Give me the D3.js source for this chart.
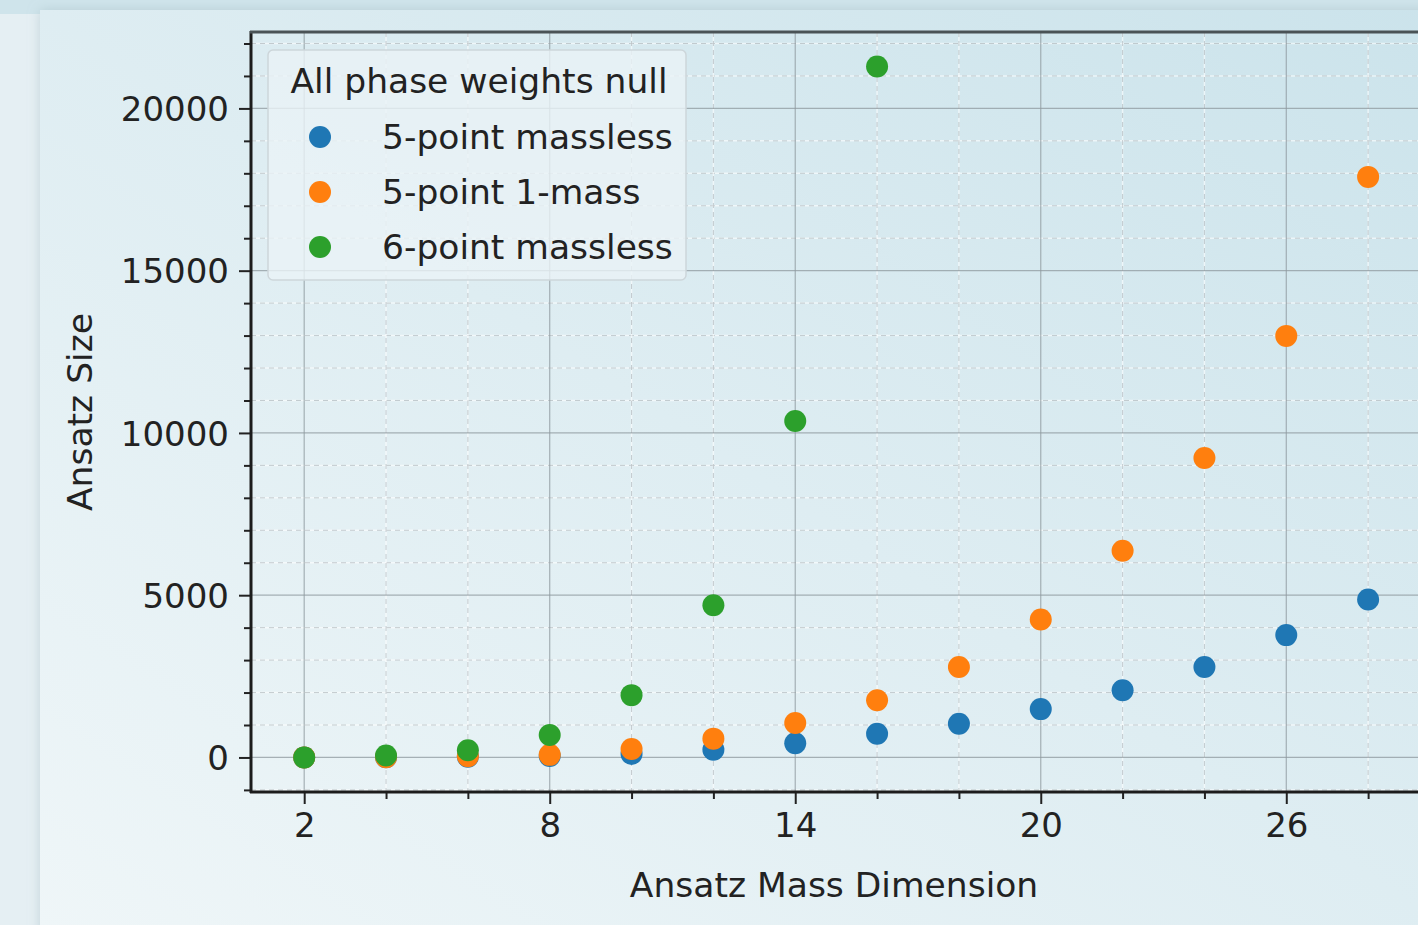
<!DOCTYPE html>
<html>
<head>
<meta charset="utf-8">
<script src="https://cdn.jsdelivr.net/npm/d3@7"></script>
<style>
  html, body { margin: 0; padding: 0; background: #d9e9ef; }
  svg { display: block; font-family: "DejaVu Sans", sans-serif; }
</style>
</head>
<body>
<div id="chart"></div>
<script>
// Data
const massDim = [2, 4, 6, 8, 10, 12, 14, 16, 18, 20, 22, 24, 26, 28];
const fivePointMassless = [1, 6, 20, 45, 110, 240, 440, 730, 1040, 1490, 2070, 2790, 3770, 4870];
const fivePointOneMass = [2, 10, 40, 80, 260, 580, 1060, 1760, 2790, 4250, 6370, 9230, 12990, 17890];
const sixPointDim = [2, 4, 6, 8, 10, 12, 14, 16];
const sixPointMassless = [1, 60, 220, 690, 1920, 4690, 10370, 21290];

const seriesNames = ["5-point massless", "5-point 1-mass", "6-point massless"];
const seriesColors = ["#1f77b4", "#ff7f0e", "#2ca02c"];
const legendTitle = "All phase weights null";

const xMajorTicks = [2, 8, 14, 20, 26];
const xMinorTicks = [4, 6, 10, 12, 16, 18, 22, 24, 28];
const yMajorTicks = [0, 5000, 10000, 15000, 20000];
const yMinorTicks = [-1000, 1000, 2000, 3000, 4000, 6000, 7000, 8000, 9000, 11000, 12000, 13000, 14000, 16000, 17000, 18000, 19000, 21000, 22000];

var W = 1418, H = 925;
var axLeft = 251, axTop = 32, axBottom = 792;

var svg = d3.select("#chart").append("svg").attr("width", W).attr("height", H);
var defs = svg.append("defs");

// background gradients
var cardGrad = defs.append("linearGradient").attr("id", "cardGrad")
  .attr("x1", "0").attr("y1", "1").attr("x2", "1").attr("y2", "0");
cardGrad.append("stop").attr("offset", "0%").attr("stop-color", "#eff6f8");
cardGrad.append("stop").attr("offset", "50%").attr("stop-color", "#deedf2");
cardGrad.append("stop").attr("offset", "100%").attr("stop-color", "#cbe3eb");

var shadow = defs.append("filter").attr("id", "shadow").attr("x", "-5%").attr("y", "-5%").attr("width", "110%").attr("height", "110%");
shadow.append("feDropShadow").attr("dx", 0).attr("dy", 0).attr("stdDeviation", 6)
  .attr("flood-color", "#9fb7c0").attr("flood-opacity", 0.5);

svg.append("rect").attr("width", W).attr("height", H).attr("fill", "#e5eff3");
svg.append("rect").attr("width", W).attr("height", 14).attr("fill", "#cfe4eb");
svg.append("rect").attr("x", 40).attr("y", 10).attr("width", W).attr("height", H)
  .attr("fill", "url(#cardGrad)").attr("filter", "url(#shadow)");

// scales (matplotlib-like 5% margins)
var x = d3.scaleLinear().domain([0.7, 29.3]).range([axLeft, axLeft + 28.6 * 40.92]);
var yMax = d3.max(sixPointMassless.concat(fivePointOneMass));
var yPad = yMax * 0.05;
var y = d3.scaleLinear().domain([-yPad, yMax + yPad]).range([axBottom, axTop]);

defs.append("clipPath").attr("id", "axClip").append("rect")
  .attr("x", axLeft).attr("y", axTop).attr("width", W - axLeft).attr("height", axBottom - axTop);

var plot = svg.append("g").attr("clip-path", "url(#axClip)");

// minor grid: white underlay + grey dashes
plot.selectAll(".ygrid-minor").data(yMinorTicks).enter().append("line")
  .attr("x1", axLeft).attr("x2", W).attr("y1", d => y(d)).attr("y2", d => y(d))
  .attr("stroke", "#ffffff").attr("stroke-opacity", 0.6).attr("stroke-width", 1.5);
plot.selectAll(".ygrid-minor2").data(yMinorTicks).enter().append("line")
  .attr("x1", axLeft).attr("x2", W).attr("y1", d => y(d)).attr("y2", d => y(d))
  .attr("stroke", "#9aa6ab").attr("stroke-opacity", 0.55).attr("stroke-width", 1)
  .attr("stroke-dasharray", "5,4");
plot.selectAll(".xgrid-minor").data(xMinorTicks).enter().append("line")
  .attr("x1", d => x(d)).attr("x2", d => x(d)).attr("y1", axTop).attr("y2", axBottom)
  .attr("stroke", "#ffffff").attr("stroke-opacity", 0.6).attr("stroke-width", 1.5);
plot.selectAll(".xgrid-minor2").data(xMinorTicks).enter().append("line")
  .attr("x1", d => x(d)).attr("x2", d => x(d)).attr("y1", axTop).attr("y2", axBottom)
  .attr("stroke", "#9aa6ab").attr("stroke-opacity", 0.55).attr("stroke-width", 1)
  .attr("stroke-dasharray", "5,4");

// major grid
plot.selectAll(".ygrid").data(yMajorTicks).enter().append("line")
  .attr("x1", axLeft).attr("x2", W).attr("y1", d => y(d)).attr("y2", d => y(d))
  .attr("stroke", "#8f9a9f").attr("stroke-opacity", 0.75).attr("stroke-width", 1.2);
plot.selectAll(".xgrid").data(xMajorTicks).enter().append("line")
  .attr("x1", d => x(d)).attr("x2", d => x(d)).attr("y1", axTop).attr("y2", axBottom)
  .attr("stroke", "#8f9a9f").attr("stroke-opacity", 0.75).attr("stroke-width", 1.2);

// scatter points
function drawSeries(xs, ys, color) {
  plot.append("g").selectAll("circle")
    .data(xs.map((d, i) => [d, ys[i]]))
    .enter()
    .append("circle")
    .attr("cx", d => x(d[0]))
    .attr("cy", d => y(d[1]))
    .attr("r", 11)
    .attr("fill", color);
}
drawSeries(massDim, fivePointMassless, seriesColors[0]);
drawSeries(massDim, fivePointOneMass, seriesColors[1]);
drawSeries(sixPointDim, sixPointMassless, seriesColors[2]);

// axes
var xAxis = svg.append("g").attr("transform", "translate(0," + axBottom + ")")
  .call(d3.axisBottom(x).tickValues(xMajorTicks).tickSize(12).tickPadding(9)
    .tickFormat(d3.format("d")));
var xAxisMinor = svg.append("g").attr("transform", "translate(0," + axBottom + ")")
  .call(d3.axisBottom(x).tickValues(xMinorTicks).tickSize(7).tickFormat(""));
var yAxis = svg.append("g").attr("transform", "translate(" + axLeft + ",0)")
  .call(d3.axisLeft(y).tickValues(yMajorTicks).tickSize(12).tickPadding(10)
    .tickFormat(d3.format("d")));
var yAxisMinor = svg.append("g").attr("transform", "translate(" + axLeft + ",0)")
  .call(d3.axisLeft(y).tickValues(yMinorTicks.filter(d => d > y.domain()[0] && d < y.domain()[1])).tickSize(7).tickFormat(""));

[xAxis, xAxisMinor, yAxis, yAxisMinor].forEach(function (g) {
  g.select(".domain").remove();
  g.selectAll(".tick line").attr("stroke", "#222").attr("stroke-width", 2);
  g.selectAll(".tick text").attr("fill", "#222").style("font-size", "34px")
    .style("font-family", "DejaVu Sans, sans-serif");
});
yAxis.selectAll(".tick text").attr("dy", "0.36em");

// spines
svg.append("line").attr("x1", axLeft).attr("x2", axLeft).attr("y1", axTop - 1).attr("y2", axBottom + 1)
  .attr("stroke", "#1c1c1c").attr("stroke-width", 3);
svg.append("line").attr("x1", axLeft - 1).attr("x2", W).attr("y1", axBottom).attr("y2", axBottom)
  .attr("stroke", "#1c1c1c").attr("stroke-width", 3);
svg.append("line").attr("x1", axLeft - 1).attr("x2", W).attr("y1", axTop).attr("y2", axTop)
  .attr("stroke", "#4a5356").attr("stroke-width", 3);

// axis labels
svg.append("text")
  .attr("x", 834).attr("y", 897)
  .attr("text-anchor", "middle").attr("fill", "#222").style("font-size", "34.5px")
  .text("Ansatz Mass Dimension");
svg.append("text")
  .attr("transform", "translate(92," + (axTop + axBottom) / 2 + ") rotate(-90)")
  .attr("text-anchor", "middle").attr("fill", "#222").style("font-size", "34.5px")
  .text("Ansatz Size");

// legend
var legend = svg.append("g");
legend.append("rect")
  .attr("x", 268).attr("y", 50).attr("width", 418).attr("height", 230).attr("rx", 5)
  .attr("fill", "#eaf3f6").attr("fill-opacity", 0.8)
  .attr("stroke", "#cdd6da").attr("stroke-width", 1.5);
legend.append("text")
  .attr("x", 479).attr("y", 93).attr("text-anchor", "middle")
  .attr("fill", "#222").style("font-size", "34.5px")
  .text(legendTitle);
var entries = legend.selectAll(".entry").data(seriesNames).enter().append("g")
  .attr("transform", (d, i) => "translate(0," + (137 + i * 55) + ")");
entries.append("circle").attr("cx", 320).attr("cy", 0).attr("r", 11)
  .attr("fill", (d, i) => seriesColors[i]);
entries.append("text").attr("x", 382).attr("y", 0).attr("dy", "0.35em")
  .attr("fill", "#222").style("font-size", "34.5px")
  .text(d => d);
</script>
</body>
</html>
